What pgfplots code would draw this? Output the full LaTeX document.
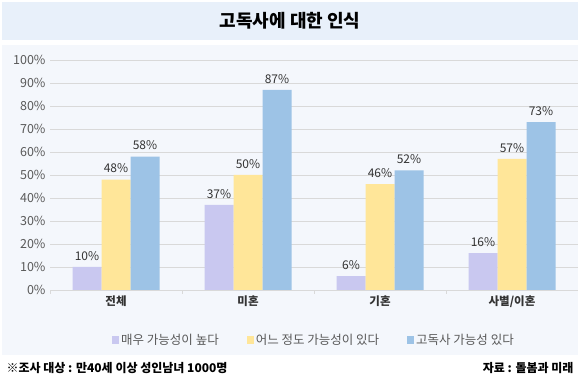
\documentclass[border=0pt]{standalone}
\usepackage{pgfplots}
\pgfplotsset{compat=1.18}
\usepackage{fontspec}
\setmainfont{Noto Sans CJK KR}
\definecolor{cA}{HTML}{C9C8F0}
\definecolor{cB}{HTML}{FFE699}
\definecolor{cC}{HTML}{9DC3E6}
\definecolor{band}{HTML}{E8F0FA}
\definecolor{panel}{HTML}{F4F7FC}
\definecolor{gridc}{HTML}{D9D9D9}
\definecolor{tickc}{HTML}{595959}
\definecolor{labc}{HTML}{333333}
\begin{document}
\begin{tikzpicture}[x=1pt,y=1pt]
\path[use as bounding box] (0,0) rectangle (580,382);
\fill[white] (0,0) rectangle (580,382);
\fill[band] (2,342) rectangle (578,380);
\fill[panel] (2,27) rectangle (578,337);
\node[font=\bfseries\fontsize{18}{20}\selectfont, text=black] at (290,361) {고독사에 대한 인식};
\begin{axis}[
  at={(50pt,92pt)}, anchor=south west,
  scale only axis, width=528pt, height=230pt,
  ybar=0pt, bar width=29pt,
  xmin=-0.5, xmax=3.5, ymin=0, ymax=100,
  xtick={0,1,2,3},
  xticklabels={전체,미혼,기혼,사별/이혼},
  minor xtick={-0.5,0.5,1.5,2.5},
  major tick length=0pt, minor tick length=4pt,
  tick align=outside,
  minor tick style={gridc},
  ytick={0,10,...,100},
  yticklabel={\pgfmathprintnumber{\tick}\%},
  /pgf/number format/assume math mode=true,
  ymajorgrids, grid style={gridc, line width=0.8pt},
  axis x line*=bottom, axis y line*=left,
  y axis line style={draw=none},
  x axis line style={gridc, line width=0.8pt},
  xticklabel style={font=\bfseries\fontsize{11.5}{13}\selectfont, text=labc, yshift=-2pt},
  yticklabel style={font=\fontsize{12.5}{14}\selectfont, text=tickc, xshift=-1pt},
  nodes near coords={\pgfmathprintnumber{\pgfplotspointmeta}\%},
  nodes near coords style={font=\fontsize{12}{14}\selectfont, text=labc, yshift=3pt},
  legend style={at={(0.5,-0.175)}, anchor=north, draw=none, fill=none,
    legend columns=3, font=\fontsize{12.5}{14}\selectfont, text=tickc,
    /tikz/every even column/.append style={column sep=26pt}},
  legend image code/.code={\fill[#1] (0pt,-4pt) rectangle (7pt,4pt);},
]
\addplot[fill=cA, draw=none] coordinates {(0,10) (1,37) (2,6) (3,16)};
\addplot[fill=cB, draw=none] coordinates {(0,48) (1,50) (2,46) (3,57)};
\addplot[fill=cC, draw=none] coordinates {(0,58) (1,87) (2,52) (3,73)};
\legend{매우 가능성이 높다, 어느 정도 가능성이 있다, 고독사 가능성 있다}
\end{axis}
\node[anchor=west, font=\bfseries\fontsize{12}{14}\selectfont] at (3,14) {※조사 대상 : 만40세 이상 성인남녀 1000명};
\node[anchor=east, font=\bfseries\fontsize{12}{14}\selectfont] at (577,14) {자료 : 돌봄과 미래};
\end{tikzpicture}
\end{document}
